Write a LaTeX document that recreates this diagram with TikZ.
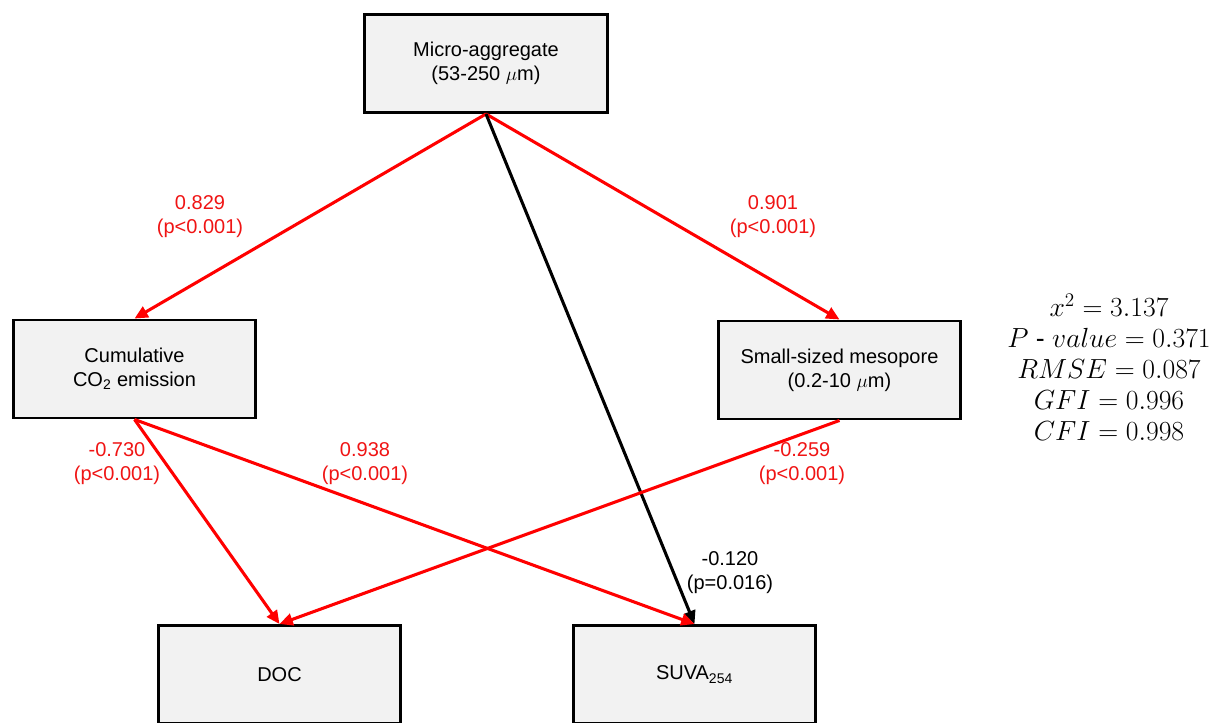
\documentclass[tikz,border=0pt]{standalone}
\usepackage{amsmath}
\usepackage{fontspec}
\setmainfont{Liberation Sans}
\usetikzlibrary{arrows.meta}
\definecolor{boxfill}{RGB}{242,242,242}
\definecolor{labred}{RGB}{240,20,20}
\begin{document}
\begin{tikzpicture}[x=0.75pt,y=-0.75pt,
  box/.style={draw=black, line width=2.2pt, fill=boxfill, minimum width=182pt, minimum height=73.5pt, inner sep=0pt, align=center, font=\fontsize{15}{18}\selectfont},
  redarrow/.style={draw=red, line width=2.3pt, -{Triangle[length=10pt,width=9pt]}},
  blackarrow/.style={draw=black, line width=2.3pt, -{Triangle[length=10pt,width=9pt]}},
  lab/.style={align=center, text=labred, inner sep=0pt, font=\fontsize{15}{18}\selectfont},
  blab/.style={lab, text=black},
  stat/.style={align=center, inner sep=0pt, font=\fontsize{20}{23.3}\selectfont}
]
\useasboundingbox (0,0) rectangle (1216,722);
\clip (0,0) rectangle (1216,722);
\fill[white] (0,0) rectangle (1216,722);

\node[box] (micro) at (486,63.5) {Micro-aggregate\\(53-250 $\mu$m)};
\node[box] (cum) at (134.5,369) {Cumulative\\CO\textsubscript{2} emission};
\node[box] (small) at (839.5,370) {Small-sized mesopore\\(0.2-10 $\mu$m)};
\node[box] (doc) at (279.5,674.5) {DOC};
\node[box] (suva) at (694.5,674.5) {SUVA\textsubscript{254}};

\draw[redarrow] (micro.south) -- (cum.north);
\draw[redarrow] (micro.south) -- (small.north);
\draw[blackarrow] (micro.south) -- (suva.north);
\draw[redarrow] (cum.south) -- (doc.north);
\draw[redarrow] (cum.south) -- (suva.north);
\draw[redarrow] (small.south) -- (doc.north);

\node[lab] (l1) at (200,217) {0.829\\(p<0.001)};
\node[lab] (l2) at (773,217) {0.901\\(p<0.001)};
\node[lab] (l3) at (117,464) {-0.730\\(p<0.001)};
\node[lab] (l4) at (365,464) {0.938\\(p<0.001)};
\node[lab] (l5) at (802,464) {-0.259\\(p<0.001)};
\node[blab] (l6) at (730,573) {-0.120\\(p=0.016)};

\node[stat] (stats) at (1109,367) {$x^2 = 3.137$\\$P\ \text{-}\ value = 0.371$\\$RMSE = 0.087$\\$GFI = 0.996$\\$CFI = 0.998$};
\end{tikzpicture}
\end{document}
